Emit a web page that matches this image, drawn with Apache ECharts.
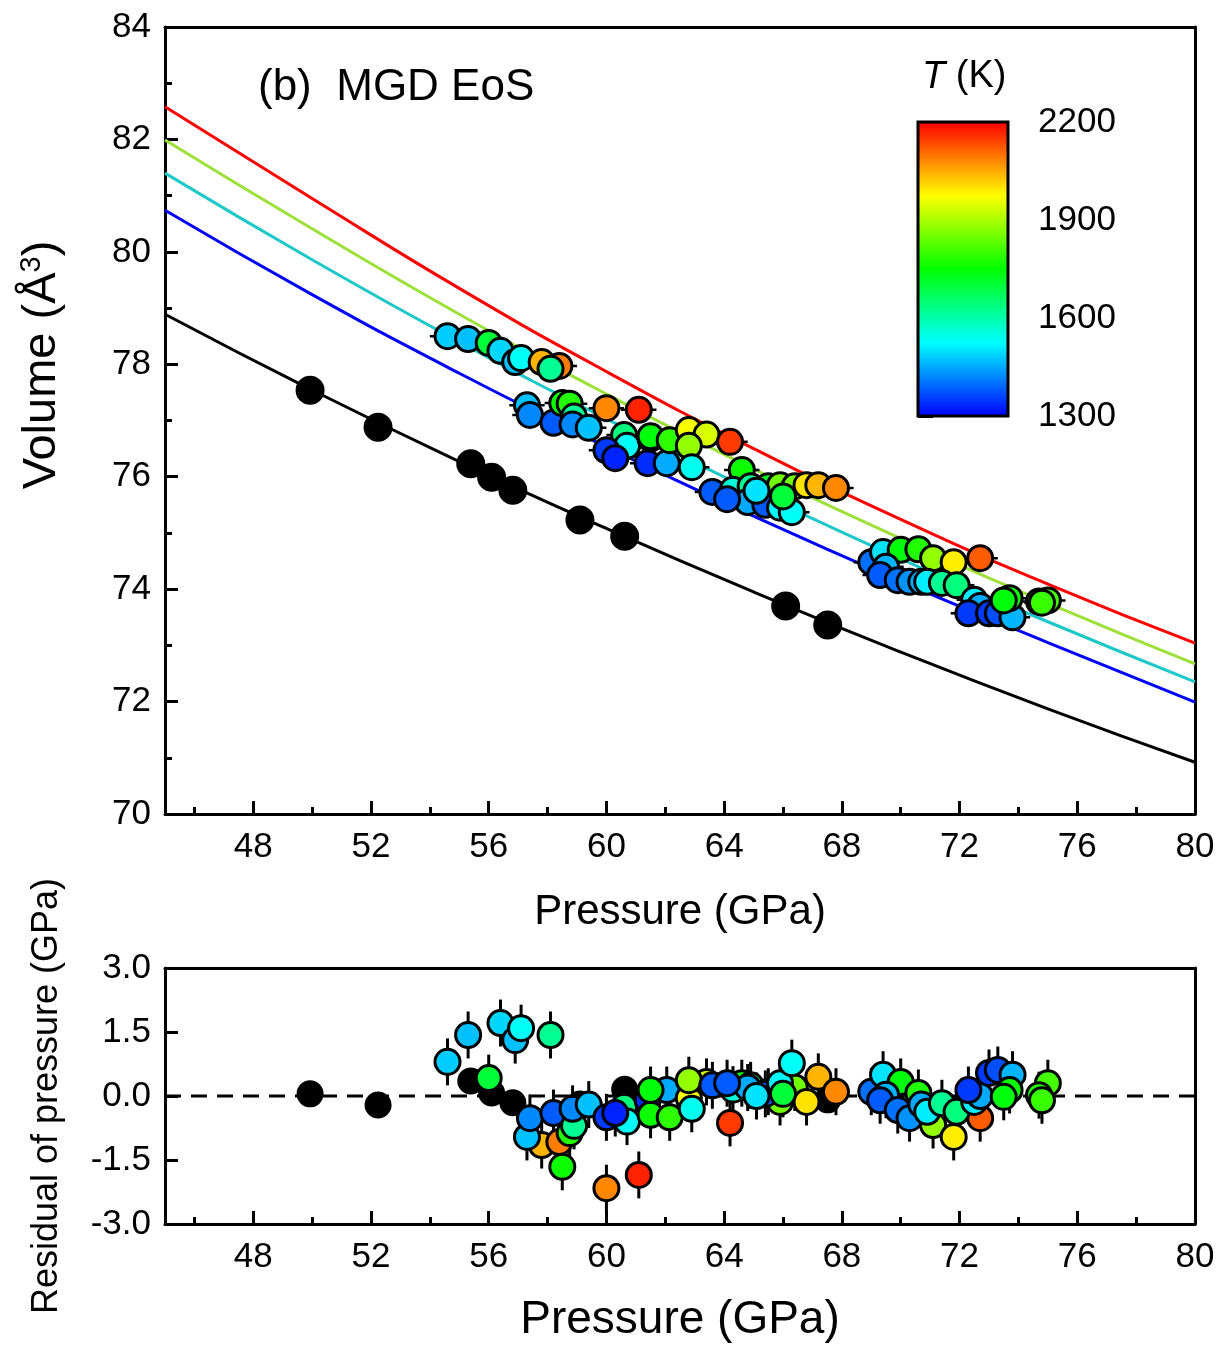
<!DOCTYPE html>
<html><head><meta charset="utf-8">
<script src="https://cdn.jsdelivr.net/npm/echarts@6/dist/echarts.min.js"></script>
<style>html,body{margin:0;padding:0;background:#fff}#c{width:1220px;height:1345px}</style>
</head><body><div id="c"></div>
<script>
// ---------- tick labels ----------
const xTicks = [48,52,56,60,64,68,72,76,80];
const xMinorTicks = [46,50,54,58,62,66,70,74,78];
const tempTicks = [1300,1600,1900,2200];

// ---------- EoS isotherm curves ----------
const curveP     = [45, 50, 55, 60, 65, 70, 75, 80];
const curve300   = [78.89, 77.54, 76.27, 75.08, 73.95, 72.88, 71.87, 70.92];
const curve1300  = [80.74, 79.24, 77.84, 76.53, 75.30, 74.14, 73.05, 71.99];
const curve1500  = [81.40, 79.86, 78.40, 77.03, 75.75, 74.54, 73.42, 72.35];
const curve1900  = [81.99, 80.41, 78.89, 77.47, 76.14, 74.90, 73.75, 72.67];
const curve2200  = [82.58, 80.95, 79.35, 77.87, 76.50, 75.24, 74.09, 73.04];

// ---------- room-temperature data ----------
const refP     = [49.93, 52.24, 55.39, 56.10, 56.82, 59.10, 60.62, 66.09, 67.52];
const refV     = [77.54, 76.88, 76.23, 75.99, 75.76, 75.23, 74.94, 73.70, 73.36];
const refResid = [0.05, -0.21, 0.35, 0.07, -0.16, -0.19, 0.16, 0.14, -0.09];

// ---------- high-temperature data ----------
const hotP = [54.6,55.3,56.0,56.4,56.9,57.1,57.8,58.4,58.1,
  57.3,57.4,58.2,58.5,58.75,58.9,58.85,59.4,60.0,61.1,60.6,60.7,60.0,60.3,61.4,62.05,61.5,61.5,62.15,62.8,63.4,62.8,62.9,
  64.2,64.6,63.6,64.3,64.9,65.5,65.9,66.4,66.8,67.2,67.8,64.8,65.4,65.9,66.3,64.1,65.1,66.0,
  69.0,69.4,70.0,70.6,71.1,71.8,72.7,69.5,69.3,69.9,70.3,70.7,70.9,71.4,71.9,72.5,72.7,72.3,73.0,73.3,73.8,73.7,73.5,75.0,74.7,74.8];
const hotV = [78.50,78.45,78.38,78.24,78.04,78.11,78.04,77.97,77.92,
  77.27,77.10,76.96,77.31,77.30,77.07,76.93,76.87,77.22,77.19,76.74,76.55,76.47,76.33,76.24,76.24,76.68,76.72,76.65,76.83,76.75,76.55,76.17,
  76.62,76.12,75.73,75.77,75.83,75.83,75.85,75.83,75.85,75.85,75.80,75.55,75.50,75.45,75.37,75.60,75.75,75.65,
  74.48,74.66,74.70,74.71,74.55,74.48,74.55,74.40,74.25,74.16,74.13,74.13,74.13,74.11,74.07,73.81,73.70,73.57,73.57,73.57,73.50,73.84,73.80,73.80,73.78,73.76];
const hotT = [1480,1470,1700,1490,1470,1530,2040,2090,1620,
  1470,1420,1380,1760,1780,1620,1420,1470,2080,2170,1640,1530,1350,1330,1340,1450,1760,1740,1790,1970,1940,1880,1540,
  2150,1760,1380,1560,1620,1720,1850,1850,2000,2040,2080,1450,1380,1520,1530,1380,1500,1700,
  1400,1500,1740,1780,1880,1990,2120,1460,1380,1400,1430,1450,1510,1620,1640,1510,1450,1350,1350,1370,1460,1760,1740,1810,1780,1800];
const hotResid = [0.80,1.43,0.42,1.71,1.31,1.59,-1.15,-1.08,1.43,
  -0.96,-0.52,-0.40,-1.66,-0.87,-0.70,-0.30,-0.20,-2.16,-1.85,-0.25,-0.60,-0.50,-0.40,-0.10,0.14,-0.44,0.14,-0.50,-0.05,0.33,0.37,-0.30,
  -0.63,0.30,0.25,0.15,0.25,0.10,-0.14,0.20,-0.14,0.45,0.10,0.20,0.05,0.30,0.77,0.30,0.00,0.05,
  0.10,0.50,0.33,0.07,-0.68,-0.96,-0.52,0.03,-0.10,-0.33,-0.52,-0.20,-0.37,-0.17,-0.37,-0.14,0.00,0.14,0.54,0.61,0.50,0.14,-0.02,0.30,0.02,-0.10];

const errP = 0.6;      // pressure error bar half-width (GPa)
const errResid = 0.55; // residual error bar half-height (GPa)

// ---------- build ----------
const FONT = '"Liberation Sans", Arial, sans-serif';
const curve = (arr) => curveP.map((p,i)=>[p, arr[i]]);
const hotTop = hotP.map((p,i)=>[p, hotV[i], hotT[i]]);
const hotBot = hotP.map((p,i)=>[p, hotResid[i], hotT[i]]);
const errTop = hotP.map((p,i)=>[p, hotV[i], errP]);
const errBot = hotP.map((p,i)=>[p, hotResid[i], errResid]);

function hBar(params, api){
  const p = api.value(0), v = api.value(1), e = api.value(2);
  const a = api.coord([p-e, v]), b = api.coord([p+e, v]);
  return {type:'line', shape:{x1:a[0],y1:a[1],x2:b[0],y2:b[1]}, style:{stroke:'#000', lineWidth:2.5}};
}
function vBar(params, api){
  const p = api.value(0), v = api.value(1), e = api.value(2);
  const a = api.coord([p, v-e]), b = api.coord([p, v+e]);
  return {type:'line', shape:{x1:a[0],y1:a[1],x2:b[0],y2:b[1]}, style:{stroke:'#000', lineWidth:3}};
}

const axisLine = {show:true, onZero:false, lineStyle:{color:'#000', width:3}};
const lbl = {color:'#000', fontFamily:FONT, fontSize:35};

function xMain(grid, name, nameSize, nameGap){
  return {type:'value', gridIndex:grid, min:45, max:80, position:'bottom',
    axisLine, splitLine:{show:false},
    axisTick:{show:true, inside:true, length:13, lineStyle:{width:3,color:'#000'}, customValues:xTicks},
    axisLabel:Object.assign({show:true, margin:16, customValues:xTicks}, lbl),
    name, nameLocation:'middle', nameGap, nameTextStyle:{color:'#000', fontFamily:FONT, fontSize:nameSize}};
}
function xMinor(grid){
  return {type:'value', gridIndex:grid, min:45, max:80, position:'bottom',
    axisLine:{show:false, onZero:false}, splitLine:{show:false},
    axisTick:{show:true, inside:true, length:7, lineStyle:{width:3,color:'#000'}, customValues:xMinorTicks},
    axisLabel:{show:false}};
}
function xTop(grid){
  return {type:'value', gridIndex:grid, min:45, max:80, position:'top',
    axisLine, splitLine:{show:false}, axisTick:{show:false}, axisLabel:{show:false}};
}
function yRight(grid, min, max){
  return {type:'value', gridIndex:grid, min, max, position:'right',
    axisLine, splitLine:{show:false}, axisTick:{show:false}, axisLabel:{show:false}};
}

const sym = 25;
const option = {
  animation:false,
  backgroundColor:'#fff',
  grid:[
    {left:165, top:27, width:1030, height:787},
    {left:165, top:968, width:1030, height:256},
    {left:918, top:122, width:90, height:294, show:true, borderColor:'#000', borderWidth:3, backgroundColor:'transparent', z:10}
  ],
  xAxis:[
    xMain(0, 'Pressure (GPa)', 42, 77),         //0
    xMinor(0),                                  //1
    xTop(0),                                    //2
    xMain(1, 'Pressure (GPa)', 46, 73),         //3
    xMinor(1),                                  //4
    xTop(1),                                    //5
    {type:'value', gridIndex:2, min:0, max:1, show:false} //6
  ],
  yAxis:[
    {type:'value', gridIndex:0, min:70, max:84, interval:2, axisLine, splitLine:{show:false},
     axisTick:{show:true, inside:true, length:13, lineStyle:{width:3,color:'#000'}},
     minorTick:{show:true, splitNumber:2, length:7, lineStyle:{width:3,color:'#000'}},
     axisLabel:Object.assign({margin:14}, lbl)},
    yRight(0, 70, 84),
    {type:'value', gridIndex:1, min:-3, max:3, interval:1.5, axisLine, splitLine:{show:false},
     axisTick:{show:true, inside:true, length:13, lineStyle:{width:3,color:'#000'}},
     axisLabel:Object.assign({margin:14, formatter:(v)=>v.toFixed(1)}, lbl),
     name:'Residual of pressure (GPa)', nameLocation:'middle', nameGap:100,
     nameTextStyle:{color:'#000', fontFamily:FONT, fontSize:36}},
    yRight(1, -3, 3),
    {type:'value', gridIndex:2, min:1300, max:2200, interval:300, position:'right',
     axisLine:{show:false}, splitLine:{show:false},
     axisTick:{show:true, inside:false, length:15, lineStyle:{width:3,color:'#000'}},
     axisLabel:Object.assign({margin:30, formatter:(v)=>String(v)}, lbl)}
  ],
  visualMap:{
    type:'continuous', min:1300, max:2200, dimension:2, seriesIndex:[7,11],
    inRange:{color:['#0000ff','#00ffff','#00ff00','#ffff00','#ff0000']},
    calculable:false, hoverLink:false, left:918, top:122, itemWidth:90, itemHeight:294,
    padding:0, text:null, showLabel:false, z:2
  },
  graphic:[
    {type:'text', left:258, top:66, style:{text:'(b)  MGD EoS', fontFamily:FONT, fontSize:44, fill:'#000'}},
    {type:'text', left:922, top:58, style:{text:'{i|T} (K)', fontFamily:FONT, fontSize:38, fill:'#000',
      rich:{i:{fontStyle:'italic', fontFamily:FONT, fontSize:38, fill:'#000'}}}},
    {type:'text', x:42, y:365, rotation:Math.PI/2,
     style:{text:'Volume (Å{s|3})', fontFamily:FONT, fontSize:47, fill:'#000', align:'center', verticalAlign:'middle',
       rich:{s:{fontSize:29, fontFamily:FONT, fill:'#000', verticalAlign:'top', padding:[0,0,20,0]}}}}
  ],
  series:[
    {type:'line', xAxisIndex:0, yAxisIndex:0, data:curve(curve300),  smooth:true, symbol:'none', lineStyle:{color:'#000', width:3}, z:1},
    {type:'line', xAxisIndex:0, yAxisIndex:0, data:curve(curve1300), smooth:true, symbol:'none', lineStyle:{color:'#0000ff', width:3}, z:1},
    {type:'line', xAxisIndex:0, yAxisIndex:0, data:curve(curve1500), smooth:true, symbol:'none', lineStyle:{color:'#1ec8c8', width:3}, z:1},
    {type:'line', xAxisIndex:0, yAxisIndex:0, data:curve(curve1900), smooth:true, symbol:'none', lineStyle:{color:'#9ee03a', width:3}, z:1},
    {type:'line', xAxisIndex:0, yAxisIndex:0, data:curve(curve2200), smooth:true, symbol:'none', lineStyle:{color:'#ff0000', width:3}, z:1},
    {type:'scatter', xAxisIndex:0, yAxisIndex:0, data:refP.map((p,i)=>[p, refV[i]]), symbolSize:sym+2,
     itemStyle:{color:'#000', borderColor:'#000', borderWidth:2, opacity:1}, z:3},
    {type:'custom', xAxisIndex:0, yAxisIndex:0, data:errTop, renderItem:hBar, encode:{x:0,y:1}, z:2},
    {type:'scatter', xAxisIndex:0, yAxisIndex:0, data:hotTop, symbolSize:sym,
     itemStyle:{borderColor:'#000', borderWidth:3, opacity:1}, z:3},
    // bottom panel
    {type:'line', xAxisIndex:3, yAxisIndex:2, data:[[45,0],[80,0]], symbol:'none', lineStyle:{color:'#000', width:3, type:[16,10]}, z:1},
    {type:'custom', xAxisIndex:3, yAxisIndex:2, data:errBot, renderItem:vBar, encode:{x:0,y:1}, z:2},
    {type:'scatter', xAxisIndex:3, yAxisIndex:2, data:refP.map((p,i)=>[p, refResid[i]]), symbolSize:sym,
     itemStyle:{color:'#000', borderColor:'#000', borderWidth:2, opacity:1}, z:3},
    {type:'scatter', xAxisIndex:3, yAxisIndex:2, data:hotBot, symbolSize:sym,
     itemStyle:{borderColor:'#000', borderWidth:3, opacity:1}, z:3}
  ]
};
const chart = echarts.init(document.getElementById('c'), null, {renderer:'canvas'});
chart.setOption(option);
</script>
</body></html>
